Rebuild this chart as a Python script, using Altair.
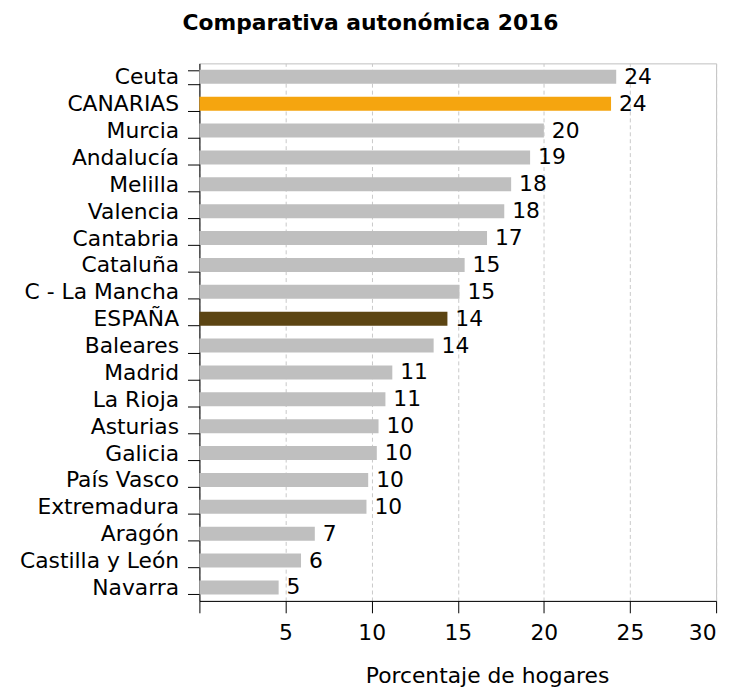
import altair as alt
import pandas as pd

regions = ["Ceuta", "CANARIAS", "Murcia", "Andalucía", "Melilla", "Valencia",
           "Cantabria", "Cataluña", "C - La Mancha", "ESPAÑA", "Baleares",
           "Madrid", "La Rioja", "Asturias", "Galicia", "País Vasco",
           "Extremadura", "Aragón", "Castilla y León", "Navarra"]
values = [24.2, 23.9, 20.0, 19.2, 18.1, 17.7, 16.7, 15.4, 15.1, 14.4, 13.6,
          11.2, 10.8, 10.4, 10.3, 9.8, 9.7, 6.7, 5.9, 4.6]
bar_colors = ["#BFBFBF", "#F5A50F", "#BFBFBF", "#BFBFBF", "#BFBFBF", "#BFBFBF",
              "#BFBFBF", "#BFBFBF", "#BFBFBF", "#5C4513", "#BFBFBF", "#BFBFBF",
              "#BFBFBF", "#BFBFBF", "#BFBFBF", "#BFBFBF", "#BFBFBF", "#BFBFBF",
              "#BFBFBF", "#BFBFBF"]
x_ticks = [0, 5, 10, 15, 20, 25, 30]

df = pd.DataFrame({"region": regions, "value": values, "color": bar_colors})

FONT = "DejaVu Sans"

y_enc = alt.Y("region:N", sort=regions, title=None,
              scale=alt.Scale(paddingInner=0.48, paddingOuter=0.24),
              axis=alt.Axis(domainColor="black", tickColor="black", tickSize=12,
                            tickBand="extent", labelFont=FONT, labelFontSize=22,
                            labelColor="black", labelPadding=9))

x_enc = alt.X("value:Q", title="Porcentaje de hogares",
              scale=alt.Scale(domain=[0, 30], nice=False),
              axis=alt.Axis(values=x_ticks, domainColor="black", tickColor="black",
                            tickSize=12, labelFont=FONT, labelFontSize=22,
                            labelColor="black", labelPadding=10,
                            labelExpr="datum.value == 0 ? '' : datum.label",
                            grid=True, gridColor="#C8C8C8", gridDash=[4, 3],
                            titleFont=FONT, titleFontSize=22, titleFontWeight="normal",
                            titleColor="black", titleX=290, titleY=82,
                            titleBaseline="alphabetic"))

bars = alt.Chart(df).mark_bar().encode(
    x=x_enc, y=y_enc,
    color=alt.Color("color:N", scale=None),
)

labels = alt.Chart(df).mark_text(align="left", baseline="middle", dx=8,
                                 font=FONT, fontSize=22, color="black").encode(
    x=alt.X("value:Q"), y=alt.Y("region:N", sort=regions),
    text=alt.Text("value:Q", format=".0f"),
)

chart = (bars + labels).properties(
    width=521, height=542,
    title=alt.TitleParams("Comparativa autonómica 2016", font=FONT, fontSize=22,
                          fontWeight="bold", color="black", anchor="middle",
                          dx=-88, dy=-14, offset=4),
    padding={"left": 193, "top": 53, "right": 13, "bottom": 86},
    autosize=alt.AutoSizeParams(type="none"),
).configure_view(stroke="#BFBFBF")

chart.save("out.html", embed_options={"renderer": "svg", "actions": False})
